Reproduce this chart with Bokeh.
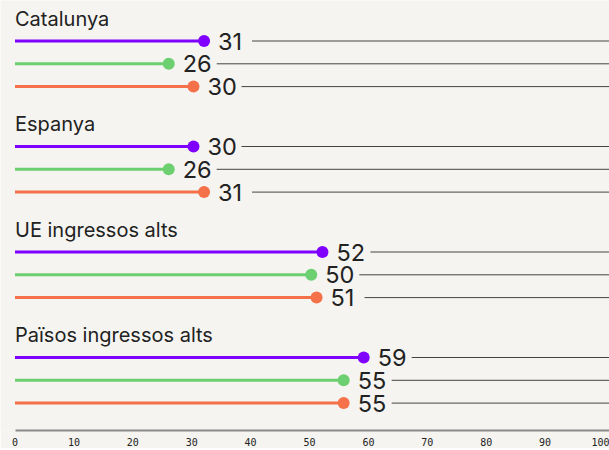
import numpy as np
from bokeh.plotting import figure
from bokeh.models import Range1d, ColumnDataSource, FixedTicker
from bokeh.core.properties import value
from bokeh.embed import file_html
from bokeh.resources import INLINE

# ---- data ----
groups = ["Catalunya", "Espanya", "UE ingressos alts", "Països ingressos alts"]
purple_vals = [32.1, 30.3, 52.2, 59.2]
green_vals = [26.1, 26.1, 50.3, 55.8]
orange_vals = [30.3, 32.1, 51.2, 55.8]
purple_labels = ["31", "30", "52", "59"]
green_labels = ["26", "26", "50", "55"]
orange_labels = ["30", "31", "51", "55"]
x_ticks = [0, 10, 20, 30, 40, 50, 60, 70, 80, 90, 100]

# ---- style / layout ----
colors = ["#7f00ff", "#6ccf70", "#f4714a"]
bg = "#f5f4f0"
txt = "#222222"
FW, FH = 609, 430
scale = 5.89
X0 = -14.5 / scale
X1 = X0 + FW / scale
first_row = 40.5
group_step = 105.5
row_step = 22.8
title_off = -22.5

p = figure(frame_width=FW, frame_height=FH, output_backend="svg", toolbar_location=None,
           x_range=Range1d(X0, X1), y_range=Range1d(FH, 0), y_axis_location=None,
           min_border=0, min_border_left=0, min_border_right=0, min_border_top=0,
           min_border_bottom=0)
p.background_fill_color = bg
p.border_fill_color = bg
p.outline_line_color = None
p.xgrid.visible = False
p.ygrid.visible = False

ax = p.xaxis[0]
ax.ticker = FixedTicker(ticks=x_ticks)
ax.major_tick_line_color = None
ax.minor_tick_line_color = None
ax.major_tick_out = 0
ax.major_tick_in = 0
ax.axis_line_color = "#8a8a8a"
ax.axis_line_width = 2
ax.bounds = (0, X1)
ax.major_label_text_font = "DejaVu Sans Mono"
ax.major_label_text_font_size = "10px"
ax.major_label_text_color = "#222222"
ax.major_label_standoff = 7

series = [(purple_vals, purple_labels), (green_vals, green_labels), (orange_vals, orange_labels)]

title_y = [first_row + g * group_step + title_off for g in range(len(groups))]
p.text(x=[0] * len(groups), y=title_y, text=groups, text_baseline="middle", text_align="left",
       text_font=value("Inter"), text_font_size="20px", text_color=txt)

for si, (vals, labels) in enumerate(series):
    ys = [first_row + g * group_step + si * row_step for g in range(len(groups))]
    vals = np.array(vals)
    src = ColumnDataSource(dict(x=vals, y=ys, lab=labels, x0=np.zeros(len(vals)),
                                xr=vals + 48.0 / scale, xe=np.full(len(vals), X1)))
    p.segment(x0="xr", y0="y", x1="xe", y1="y", source=src, line_color="#444444", line_width=1)
    p.segment(x0="x0", y0="y", x1="x", y1="y", source=src, line_color=colors[si], line_width=3)
    p.scatter(x="x", y="y", source=src, size=12, fill_color=colors[si], line_color=None)
    p.text(x="x", y="y", text="lab", source=src, x_offset=14, text_baseline="middle",
           text_align="left", text_font=value("Inter"), text_font_size="23.5px", text_color=txt)

open("out.html", "w").write(file_html(p, INLINE))
